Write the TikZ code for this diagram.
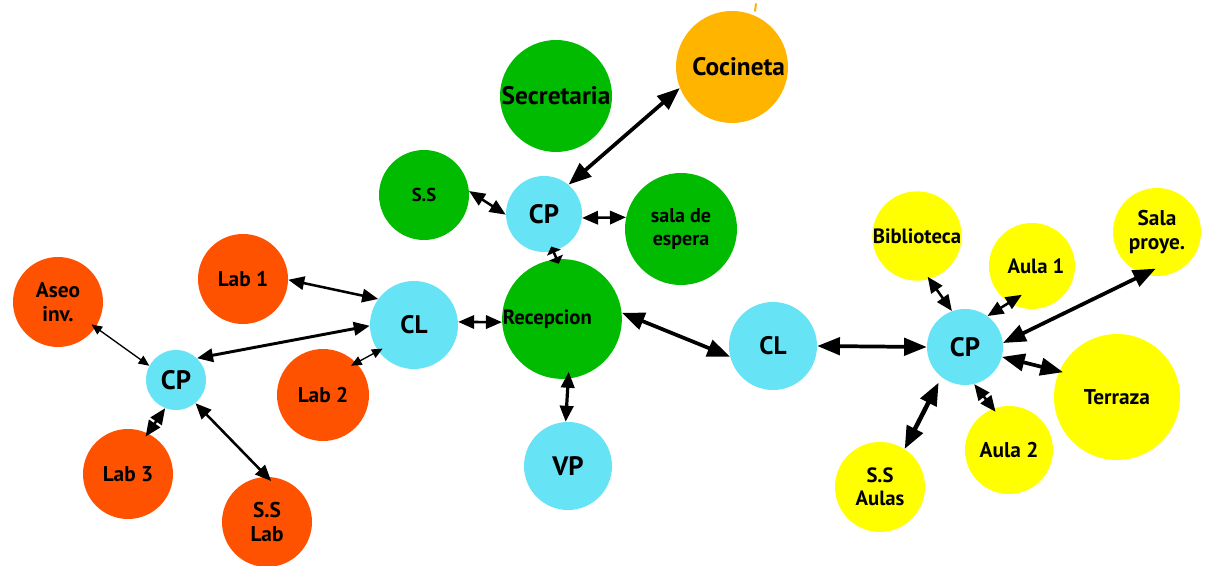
\documentclass[tikz,border=0pt]{standalone}
\usepackage{fontspec}
\setmainfont{PT Sans}
\usetikzlibrary{arrows.meta}
\definecolor{labred}{HTML}{FF5200}
\definecolor{hubcyan}{HTML}{66E4F5}
\definecolor{admgreen}{HTML}{00BB00}
\definecolor{roomyellow}{HTML}{FFFF00}
\definecolor{kitchen}{HTML}{FFB400}
\tikzset{
  room/.style={circle, inner sep=0pt, align=center, font=\linespread{1.12}\bfseries\fontsize{#1}{#1}\selectfont, text=black},
  d/.style={minimum size=#1*0.75pt},
  lab/.style={room=16, fill=labred},
  hub/.style={room=20, fill=hubcyan},
  adm/.style={room=15.5, fill=admgreen},
  aula/.style={room=15.5, fill=roomyellow},
  thinarr/.style={line width=1pt, {Triangle[length=8pt,width=7pt]}-{Triangle[length=8pt,width=7pt]}},
  medarr/.style={line width=1.9pt, {Triangle[length=12pt,width=10pt]}-{Triangle[length=12pt,width=10pt]}},
  thickarr/.style={line width=2.8pt, {Triangle[length=17pt,width=13pt]}-{Triangle[length=17pt,width=13pt]}},
  ext/.style={shorten <=-#1*0.75pt},
  exte/.style={shorten >=-#1*0.75pt}
}
\begin{document}
\begin{tikzpicture}[x=0.75pt,y=-0.75pt]
\useasboundingbox (0,0) rectangle (1208,566);
\fill[white] (0,0) rectangle (1208,566);

% laboratory wing
\node[lab, d=90] (aseo) at (58,302) {Aseo\\inv.};
\node[lab, d=90] (lab1) at (243,279) {Lab 1};
\node[lab, d=92] (lab2) at (323,395) {Lab 2};
\node[lab, d=90] (lab3) at (128,474) {Lab 3};
\node[lab, d=90] (sslab) at (267,522) {S.S\\Lab};
\node[hub, d=60] (cpL) at (176,380) {CP};
\node[hub, room=19, d=88] (clL) at (414,325) {CL};

% administration
\node[adm, room=19, d=112] (secr) at (556,96) {Secretaria};
\node[room=19, fill=kitchen, d=112] (coc) at (732,67) {\hspace*{10pt}Cocineta};
\node[adm, room=14, d=90] (ss) at (424,195) {S.S};
\node[hub, d=76] (cpT) at (544,214) {CP};
\node[adm, room=15, d=112] (sala) at (681,229) {sala de\\espera};
\node[adm, d=112] (rec) at (562,319) {\raisebox{2pt}{Recepcion\hspace*{22pt}}};
\node[hub, room=20, d=88] (vp) at (568,466) {VP};

% classroom wing
\node[hub, room=19, d=88] (clR) at (773,346) {CL};
\node[hub, d=76] (cpR) at (965,347) {CP};
\node[aula, d=88] (bib) at (917,236) {Biblioteca};
\node[aula, d=86] (aula1) at (1032,266) {\hspace*{6pt}Aula 1};
\node[aula, room=16, d=88] (salap) at (1157,232) {Sala\\proye.};
\node[aula, room=16, d=126] (terr) at (1117,397) {Terraza};
\node[aula, room=16, d=88] (aula2) at (1009,450) {Aula 2};
\node[aula, d=90] (ssa) at (880,487) {S.S\\Aulas};

% small stroke above the kitchen
\draw[kitchen, line width=1.5pt, line cap=round] (756,4) -- (755,11);

% connectors
\draw[medarr] (lab1.-1) -- (clL.144);
\draw[medarr, line width=2.2pt] (clL.181) -- (cpL.46);
\draw[thinarr, ext=5, exte=6] (clL.216) -- (lab2.44);
\draw[thinarr, ext=5] (aseo.-34) -- (cpL.152);
\draw[medarr, exte=4] (cpL.249) -- (lab3.64);
\draw[medarr, exte=6] (cpL.-50) -- (sslab.90);

\draw[thickarr] (coc.202) -- (cpT.50);
\draw[medarr] (ss.5) -- (cpT.181);
\draw[medarr] (cpT.-6) -- (sala.168);
\draw[line width=1.9pt, ext=5, exte=5, {Triangle[length=5pt,width=11pt]}-{Triangle[length=5pt,width=11pt]}] (cpT.-76) -- (rec.95);
\draw[medarr] (clL.4) -- (rec.183);
\draw[thickarr] (rec.6) -- (clR.194);
\draw[medarr, line width=2.4pt, ext=7] (rec.-84) -- (vp.93);

\draw[thickarr] (clR.east) -- (cpR.west);
\draw[medarr, ext=3] (bib.-74) -- (cpR.110);
\draw[medarr, ext=15] (aula1.238) -- (cpR.54);
\draw[thickarr, ext=13] (salap.253) -- (cpR.6);
\draw[thickarr, exte=4] (cpR.-15) -- (terr.156);
\draw[medarr, exte=4] (cpR.-76) -- (aula2.111);
\draw[thickarr, line width=3.4pt, shorten <=4.5pt] (cpR.232) -- (ssa.57);
\end{tikzpicture}
\end{document}
